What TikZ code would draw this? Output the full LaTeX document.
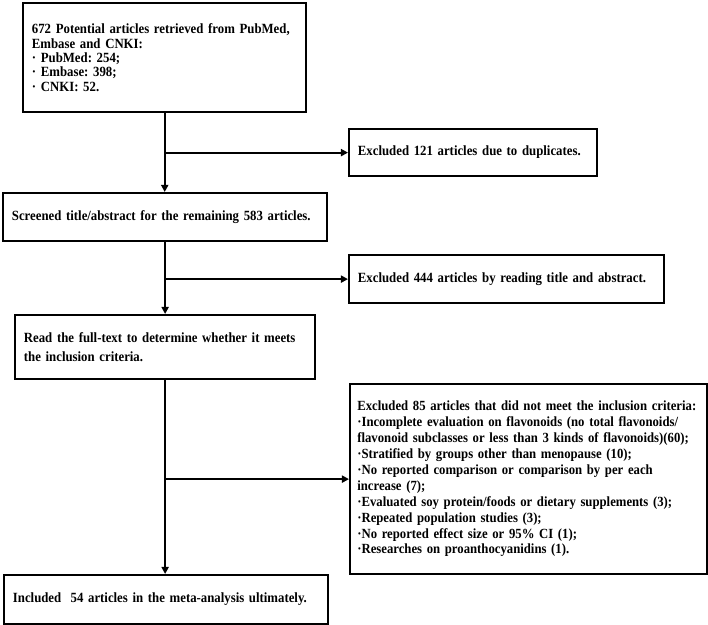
\documentclass[tikz,border=0pt]{standalone}
\usepackage{fontspec}
\setmainfont{Liberation Serif}[FakeStretch=0.91]
\usetikzlibrary{arrows.meta}
\frenchspacing
\hyphenpenalty=10000
\exhyphenpenalty=10000

\begin{document}
\begin{tikzpicture}[
    box/.style={draw, line width=1.6pt, inner xsep=0.22cm, inner ysep=0pt,
      anchor=north west, align=left,
      font=\fontsize{10}{#1}\selectfont\bfseries},
    box/.default=11pt,
    link/.style={line width=1.3pt},
    arr/.style={link, -{Triangle[length=5pt,width=5pt]}}]
  \useasboundingbox (0, 0) rectangle (17.7, 15.625);

  \node[box=10.2pt, text width=6.64cm, minimum height=2.725cm] (src)
    at (0.55, 15.575) {672 Potential articles retrieved from PubMed,\\
    Embase and CNKI:\\ · PubMed: 254;\\ · Embase: 398;\\ · CNKI: 52.};
  \node[box, text width=5.76cm, minimum height=1.175cm] (dup)
    at (8.7, 12.425) {Excluded 121 articles due to duplicates.};
  \node[box, text width=7.66cm, minimum height=1.2cm] (scr)
    at (0.05, 10.825) {Screened title/abstract for the remaining 583 articles.};
  \node[box, text width=7.44cm, minimum height=1.2cm] (abs)
    at (8.7, 9.275) {Excluded 444 articles by reading title and abstract.};
  \node[box=14pt, text width=7.06cm, minimum height=1.6cm] (full)
    at (0.35, 7.775) {Read the full-text to determine whether it meets\\
    the inclusion criteria.};
  \node[box, font=\fontsize{9.95}{11.3}\selectfont\bfseries,
    inner xsep=0.18cm, text width=8.57cm, minimum height=4.75cm] (crit)
    at (8.725, 6.05) {Excluded 85 articles that did not meet the inclusion criteria:\\
    ·Incomplete evaluation on flavonoids (no total flavonoids/\\
    flavonoid subclasses or less than 3 kinds of flavonoids)(60);\\
    ·Stratified by groups other than menopause (10);\\
    ·No reported comparison or comparison by per each\\
    increase (7);\\
    ·Evaluated soy protein/foods or dietary supplements (3);\\
    ·Repeated population studies (3);\\
    ·No reported effect size or 95\% CI (1);\\
    ·Researches on proanthocyanidins (1).};
  \node[box, text width=7.66cm, minimum height=1.225cm] (incl)
    at (0.075, 1.275) {Included\ \ 54 articles in the meta-analysis ultimately.};

  \draw[arr] (src.south) -- (src.south |- scr.north);
  \draw[arr] (src.south |- dup.west) -- (dup.west);
  \draw[arr] (scr.south) -- (scr.south |- full.north);
  \draw[arr] (scr.south |- abs.west) -- (abs.west);
  \draw[arr] (full.south) -- (full.south |- incl.north);
  \draw[arr] (full.south |- crit.west) -- (crit.west);
\end{tikzpicture}
\end{document}
